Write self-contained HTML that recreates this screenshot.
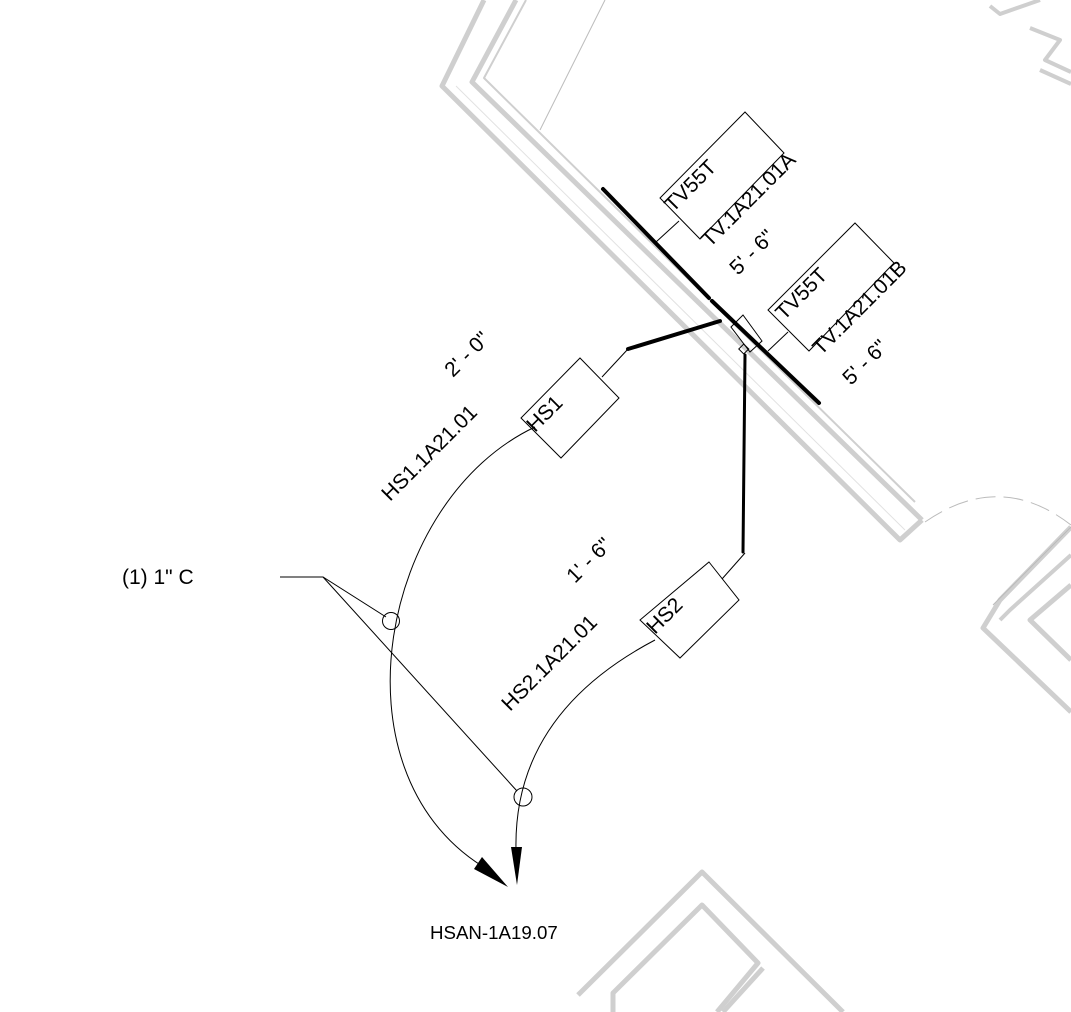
<!DOCTYPE html>
<html><head><meta charset="utf-8"><style>
html,body{margin:0;padding:0;background:#fff;}
svg{display:block;}
text{font-family:"Liberation Sans",Arial,sans-serif;fill:#000;}
</style></head><body>
<svg width="1071" height="1012" viewBox="0 0 1071 1012" xmlns="http://www.w3.org/2000/svg">
<g fill="none" stroke="#cfcfcf" stroke-linejoin="round">
  <polyline points="484,0 442,86 900,540 922,520" stroke-width="5"/>
  <polyline points="516,0 472,82 922,520" stroke-width="5"/>
  <polyline points="526,0 484,78 915,502" stroke-width="2"/>
  <line x1="456" y1="86" x2="905" y2="530" stroke-width="1" stroke="#e2e2e2"/>
  <polyline points="990,6 1000,14 1040,0" stroke-width="4"/>
  <polyline points="1030,28 1060,40 1045,60 1071,72" stroke-width="4"/>
  <polyline points="1040,70 1071,84" stroke-width="4"/>
  <polyline points="1071,527 1000,600 983,628 1071,712" stroke-width="5"/>
  <polyline points="1071,555 1010,610 1000,620" stroke-width="4"/>
  <polyline points="1071,585 1030,620 1071,660" stroke-width="5"/>
  <polyline points="578,995 702,872 843,1012" stroke-width="5"/>
  <polyline points="613,1012 613,993 702,905 758,963 717,1012" stroke-width="5"/>
  <polyline points="763,968 723,1012" stroke-width="5"/>
</g>
<g fill="none" stroke="#bbb" stroke-width="1">
  <line x1="605" y1="0" x2="540" y2="130"/>
  <path d="M925,522 Q1000,470 1071,525" stroke-dasharray="20,8"/>
  <line x1="1071" y1="527" x2="993" y2="605"/>
</g>
<g stroke="#000" stroke-width="4" stroke-linecap="round">
  <line x1="603" y1="189" x2="709" y2="298"/>
  <line x1="712" y1="301" x2="819" y2="403"/>
  <line x1="628" y1="349" x2="720" y2="321"/>
  <polyline points="745,355 743,552" fill="none" stroke-width="3"/>
</g>
<g fill="none" stroke="#000" stroke-width="1">
  <polygon points="745,112 784,153 700,239 660,198"/>
  <line x1="679" y1="221" x2="656" y2="242"/>
  <polygon points="855,223 894,263 809,351 768,310"/>
  <line x1="788" y1="332" x2="768" y2="351"/>
  <polygon points="731,327 743,315 762,341 750,352"/>
  <rect x="740" y="346" width="7" height="7" transform="rotate(-45 743 349)"/>
  <polygon points="580,358 619,398 561,458 521,418"/>
  <polyline points="602,377 628,349"/>
  <polygon points="709,562 739,600 680,658 640,620"/>
  <polyline points="722,579 745,553"/>
  <path d="M535,427 C380,500 330,770 482,866"/>
  <path d="M655,640 C560,690 514,760 516,850"/>
  <polyline points="280,577 323,577 386,617"/>
  <line x1="323" y1="577" x2="517" y2="791"/>
  <circle cx="391" cy="621" r="8.5"/>
  <circle cx="523" cy="797" r="9"/>
</g>
<polygon points="508,887 474,869 482,857" fill="#000"/>
<polygon points="517,885 511,847 522,847" fill="#000"/>
<g font-size="21">
  <text transform="translate(673,213) rotate(-45)">TV55T</text>
  <text transform="translate(710,248) rotate(-45)">TV.1A21.01A</text>
  <text transform="translate(738,276) rotate(-45)">5' - 6"</text>
  <text transform="translate(784,321) rotate(-45)">TV55T</text>
  <text transform="translate(821,356) rotate(-45)">TV.1A21.01B</text>
  <text transform="translate(851,386) rotate(-45)">5' - 6"</text>
  <text transform="translate(535,433) rotate(-45)">HS1</text>
  <text transform="translate(390,502) rotate(-45)">HS1.1A21.01</text>
  <text transform="translate(453,378) rotate(-45)">2' - 0"</text>
  <text transform="translate(655,635) rotate(-45)">HS2</text>
  <text transform="translate(510,712) rotate(-45)">HS2.1A21.01</text>
  <text transform="translate(575,584) rotate(-45)">1' - 6"</text>
</g>
<text x="122" y="584" font-size="21">(1) 1" C</text>
<text x="430" y="939" font-size="18.7">HSAN-1A19.07</text>
</svg>
</body></html>
